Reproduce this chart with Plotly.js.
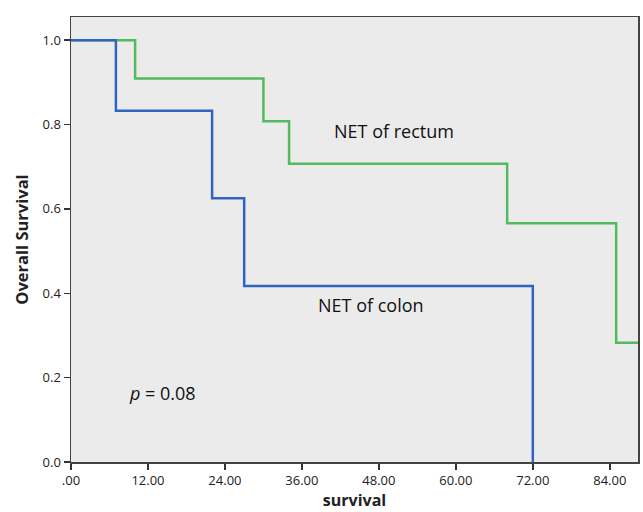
<!DOCTYPE html>
<html><head><meta charset="utf-8">
<script src="https://cdn.plot.ly/plotly-3.0.1.min.js"></script>
<style>body{margin:0;padding:0;background:#fff}</style>
</head><body>
<div id="chart" style="width:643px;height:512px"></div>
<script>
// Kaplan-Meier step data (time in months, survival)
const colonTime = [0, 7, 22, 27, 72, 72];
const colonSurv = [1.0, 0.833, 0.625, 0.417, 0.0, 0.0];
const rectumTime = [0, 10, 30, 34, 68, 85, 88.4];
const rectumSurv = [1.0, 0.909, 0.808, 0.707, 0.566, 0.283, 0.283];
const xTicks = [0, 12, 24, 36, 48, 60, 72, 84];
const xTickLabels = ['.00', '12.00', '24.00', '36.00', '48.00', '60.00', '72.00', '84.00'];
const yTicks = [0, 0.2, 0.4, 0.6, 0.8, 1.0];
const yTickLabels = ['0.0', '0.2', '0.4', '0.6', '0.8', '1.0'];

const traces = [
  {x: rectumTime, y: rectumSurv, mode: 'lines', line: {shape: 'hv', color: '#52bb5e', width: 2.5}, name: 'NET of rectum'},
  {x: colonTime, y: colonSurv, mode: 'lines', line: {shape: 'hv', color: '#2f64c2', width: 2.5}, name: 'NET of colon'}
];

const font = 'Open Sans, Liberation Sans, sans-serif';
const layout = {
  width: 643, height: 512,
  margin: {l: 71, r: 5, t: 17, b: 50},
  paper_bgcolor: '#ffffff',
  plot_bgcolor: '#ebebeb',
  showlegend: false,
  font: {family: font, color: '#222'},
  xaxis: {
    range: [0, 88.4], tickvals: xTicks, ticktext: xTickLabels,
    ticks: 'outside', ticklen: 6, tickwidth: 1.5, tickcolor: '#333',
    showgrid: false, zeroline: false,
    showline: true, linecolor: '#444', linewidth: 1.5, mirror: true,
    tickfont: {size: 13, family: font, color: '#222'},
    title: {text: '<b>survival</b>', font: {size: 16, family: font, color: '#222'}, standoff: 6}
  },
  yaxis: {
    range: [0, 1.055], tickvals: yTicks, ticktext: yTickLabels,
    ticks: 'outside', ticklen: 6, tickwidth: 1.5, tickcolor: '#333',
    showgrid: false, zeroline: false,
    showline: true, linecolor: '#444', linewidth: 1.5, mirror: true,
    tickfont: {size: 13, family: font, color: '#222'},
    title: {text: '<b>Overall Survival</b>', font: {size: 16.5, family: font, color: '#222'}, standoff: 10}
  },
  annotations: [
    {x: 50.3, y: 0.785, xref: 'x', yref: 'y', text: 'NET of rectum', showarrow: false, font: {size: 18, family: font, color: '#111'}},
    {x: 46.7, y: 0.372, xref: 'x', yref: 'y', text: 'NET of colon', showarrow: false, font: {size: 18, family: font, color: '#111'}},
    {x: 14.2, y: 0.163, xref: 'x', yref: 'y', text: '<i>p</i> = 0.08', showarrow: false, font: {size: 18, family: font, color: '#111'}}
  ]
};
Plotly.newPlot('chart', traces, layout, {displayModeBar: false, staticPlot: true});
</script>
</body></html>
